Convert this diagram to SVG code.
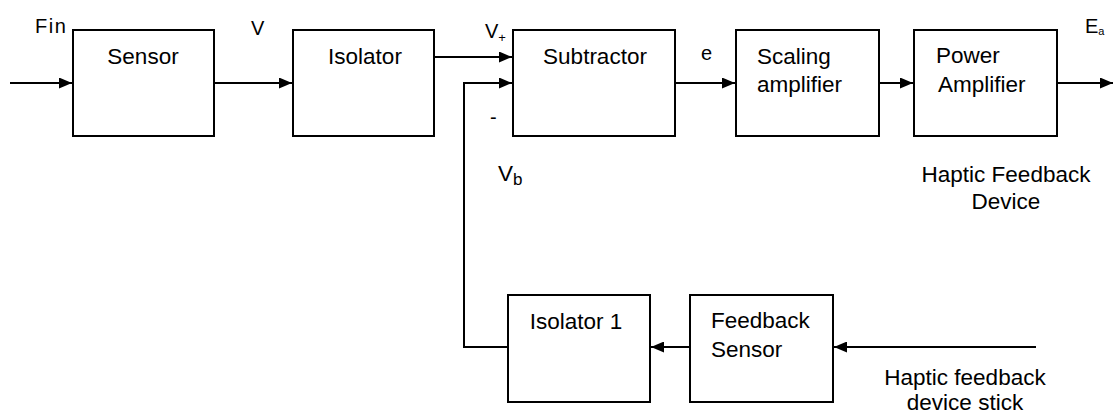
<svg xmlns="http://www.w3.org/2000/svg" width="1114" height="417" viewBox="0 0 1114 417">
<style>
.box{fill:#fff;stroke:#000;stroke-width:2}
.ln{fill:none;stroke:#000;stroke-width:2}
text{font-family:"Liberation Sans",Arial,sans-serif;font-size:22.5px;fill:#000}
.lab{font-size:20px}
</style>
<defs>
<marker id="ah" viewBox="0 0 13 11" refX="13" refY="5.5" markerWidth="13" markerHeight="11" markerUnits="userSpaceOnUse" orient="auto">
<path d="M0,0 L13,5.5 L0,11 Z" fill="#000"/>
</marker>
</defs>
<g id="connectors">
<line class="ln" x1="10" y1="83" x2="72" y2="83" marker-end="url(#ah)"/>
<line class="ln" x1="214" y1="83" x2="292" y2="83" marker-end="url(#ah)"/>
<line class="ln" x1="434" y1="57" x2="512" y2="57" marker-end="url(#ah)"/>
<polyline class="ln" points="508,347 464,347 464,83 512,83" marker-end="url(#ah)"/>
<line class="ln" x1="675" y1="83" x2="735" y2="83" marker-end="url(#ah)"/>
<line class="ln" x1="879" y1="83" x2="913" y2="83" marker-end="url(#ah)"/>
<line class="ln" x1="1057" y1="83" x2="1113" y2="83" marker-end="url(#ah)"/>
<line class="ln" x1="690" y1="347" x2="651" y2="347" marker-end="url(#ah)"/>
<line class="ln" x1="1036" y1="347" x2="834" y2="347" marker-end="url(#ah)"/>
</g>
<g id="sensor"><rect class="box" x="73" y="30" width="141" height="106"/><text x="143" y="64" text-anchor="middle">Sensor</text></g>
<g id="isolator"><rect class="box" x="293" y="30" width="141" height="106"/><text x="365" y="64" text-anchor="middle">Isolator</text></g>
<g id="subtractor"><rect class="box" x="513" y="30" width="162" height="106"/><text x="595" y="64" text-anchor="middle">Subtractor</text></g>
<g id="scaling"><rect class="box" x="736" y="30" width="143" height="106"/><text x="757" y="64">Scaling</text><text x="757" y="92">amplifier</text></g>
<g id="power"><rect class="box" x="914" y="30" width="143" height="106"/><text x="936" y="63">Power</text><text x="938" y="92">Amplifier</text></g>
<g id="isolator1"><rect class="box" x="508" y="295" width="142" height="107"/><text x="576" y="329" text-anchor="middle">Isolator 1</text></g>
<g id="feedbacksensor"><rect class="box" x="690" y="295" width="143" height="107"/><text x="711" y="328">Feedback</text><text x="711" y="357">Sensor</text></g>
<g id="labels">
<text class="lab" x="35" y="33" font-size="20" letter-spacing="1.5">Fin</text>
<text class="lab" x="251" y="35">V</text>
<text class="lab" x="485" y="38">V<tspan font-size="13" dy="4">+</tspan></text>
<text class="lab" x="490" y="124">-</text>
<text class="lab" x="701" y="60">e</text>
<text class="lab" x="1085" y="33" font-size="18">E<tspan font-size="11" dy="2">a</tspan></text>
<text x="498" y="181" font-size="24">V<tspan font-size="17" dy="4">b</tspan></text>
<text x="1006" y="182" text-anchor="middle">Haptic Feedback</text>
<text x="1006" y="209" text-anchor="middle">Device</text>
<text x="965" y="385" text-anchor="middle">Haptic feedback</text>
<text x="965" y="410" text-anchor="middle">device stick</text>
</g>
</svg>
